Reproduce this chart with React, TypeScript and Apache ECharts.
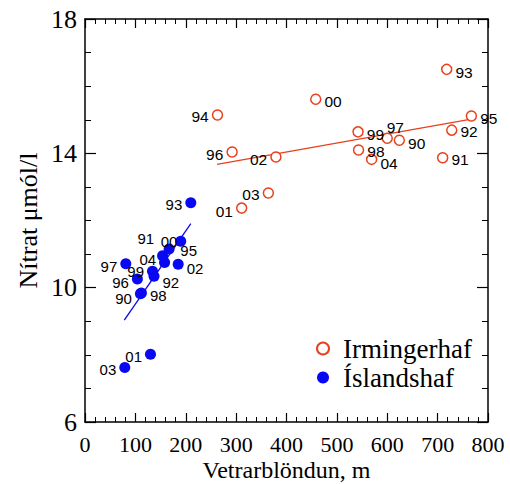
import React, { useEffect, useRef } from "react";
import * as echarts from "echarts";

// Irmingerhaf (open red circles)
const irmYears = ["90", "91", "92", "93", "94", "95", "96", "97", "98", "99", "00", "01", "02", "03", "04"];
const irmDepth = [624, 710, 728, 718, 263, 767, 292, 600, 543, 542, 458, 311, 379, 364, 569];
const irmNitrate = [14.39, 13.87, 14.69, 16.5, 15.14, 15.11, 14.04, 14.45, 14.1, 14.64, 15.61, 12.37, 13.89, 12.82, 13.82];

// Íslandshaf (filled blue circles)
const islYears = ["90", "91", "92", "93", "95", "96", "97", "98", "99", "00", "01", "02", "03", "04"];
const islDepth = [110, 154, 137, 210, 190, 104, 81, 112, 134, 167, 130, 185, 79, 158];
const islNitrate = [9.82, 10.95, 10.34, 12.53, 11.38, 10.26, 10.71, 9.84, 10.49, 11.15, 8.02, 10.7, 7.62, 10.75];

// regression lines (end points)
const irmLineX = [262, 764];
const irmLineY = [13.67, 15.01];
const islLineX = [78, 210];
const islLineY = [9.03, 11.91];

const RED = "#e8401c";
const BLUE = "#0808f2";

type LP = { position: string; offset?: number[] };
const irmLabelPlace: Record<string, LP> = {
  "90": { position: "right", offset: [0, 3] },
  "91": { position: "right", offset: [0, 2] },
  "92": { position: "right", offset: [0, 1] },
  "93": { position: "right", offset: [0, 3] },
  "94": { position: "left", offset: [0, 1] },
  "95": { position: "right", offset: [0, 2] },
  "96": { position: "left", offset: [0, 3] },
  "97": { position: "top", offset: [8, 6] },
  "98": { position: "right", offset: [0, 2] },
  "99": { position: "right", offset: [0, 3] },
  "00": { position: "right", offset: [0, 2] },
  "01": { position: "left", offset: [0, 3] },
  "02": { position: "left", offset: [0, 2] },
  "03": { position: "left", offset: [0, 2] },
  "04": { position: "right", offset: [0, 4] },
};
const islLabelPlace: Record<string, LP> = {
  "90": { position: "left", offset: [0, 5] },
  "91": { position: "left", offset: [0, -17] },
  "92": { position: "right", offset: [0, 6] },
  "93": { position: "left", offset: [0, 2] },
  "95": { position: "bottom", offset: [8, -6] },
  "96": { position: "left", offset: [0, 4] },
  "97": { position: "left", offset: [0, 3] },
  "98": { position: "right", offset: [0, 2] },
  "99": { position: "left", offset: [0, 0] },
  "00": { position: "top", offset: [0, 7] },
  "01": { position: "left", offset: [0, 2] },
  "02": { position: "right", offset: [0, 4] },
  "03": { position: "left", offset: [0, 2] },
  "04": { position: "left", offset: [0, -3] },
};

const SERIF = "Liberation Serif";
const SANS = "Liberation Sans";

export default function App() {
  const ref = useRef<HTMLDivElement>(null);
  useEffect(() => {
    if (!ref.current) return;
    const chart = echarts.init(ref.current, null, { renderer: "svg" });

    const axisCommonX = {
      type: "value",
      min: 0,
      max: 800,
      interval: 100,
      axisLine: { show: true, onZero: false, lineStyle: { color: "#000", width: 1.5 } },
      axisTick: { show: true, inside: true, length: 9, lineStyle: { color: "#000", width: 1.2 } },
      minorTick: { show: true, splitNumber: 5, length: 5, lineStyle: { color: "#000", width: 1 } },
      splitLine: { show: false },
    };
    const axisCommonY = {
      type: "value",
      min: 6,
      max: 18,
      interval: 4,
      axisLine: { show: true, onZero: false, lineStyle: { color: "#000", width: 1.5 } },
      axisTick: { show: true, inside: true, length: 11, lineStyle: { color: "#000", width: 1.2 } },
      minorTick: { show: true, splitNumber: 4, length: 6, lineStyle: { color: "#000", width: 1 } },
      splitLine: { show: false },
    };

    const mkData = (xs: number[], ys: number[], names: string[], place: Record<string, LP>) =>
      xs.map((x, i) => ({
        value: [x, ys[i]],
        name: names[i],
        label: {
          position: place[names[i]]?.position ?? "right",
          offset: place[names[i]]?.offset ?? [0, 0],
        },
      }));

    chart.setOption({
      animation: false,
      backgroundColor: "#fff",
      grid: { left: 85, right: 22, top: 19, bottom: 62, containLabel: false, outerBoundsMode: "none" },
      legend: {
        orient: "vertical",
        left: 311,
        top: 330,
        itemWidth: 30,
        itemHeight: 12,
        itemGap: 2,
        data: ["Irmingerhaf", "Íslandshaf"],
        textStyle: { fontFamily: SERIF, fontSize: 27, lineHeight: 26, color: "#000" },
      },
      xAxis: [
        {
          ...axisCommonX,
          position: "bottom",
          name: "Vetrarblöndun, m",
          nameLocation: "middle",
          nameGap: 36,
          nameMoveOverlap: false,
          nameTextStyle: { fontFamily: SERIF, fontSize: 24, lineHeight: 24, color: "#000" },
          axisLabel: { fontFamily: SERIF, fontSize: 22, color: "#000", margin: 11 },
        },
        { ...axisCommonX, position: "top", axisLabel: { show: false } },
      ],
      yAxis: [
        {
          ...axisCommonY,
          position: "left",
          name: "Nítrat μmól/l",
          nameLocation: "middle",
          nameGap: 44,
          nameMoveOverlap: false,
          nameTextStyle: { fontFamily: SERIF, fontSize: 26, color: "#000" },
          axisLabel: { fontFamily: SERIF, fontSize: 26, color: "#000", margin: 8 },
        },
        { ...axisCommonY, position: "right", axisLabel: { show: false } },
      ],
      series: [
        {
          name: "Irmingerhaf",
          type: "scatter",
          xAxisIndex: 0,
          yAxisIndex: 0,
          symbol: "circle",
          symbolSize: 10,
          itemStyle: { color: "#fff", borderColor: RED, borderWidth: 1.5, opacity: 1 },
          label: { show: true, formatter: "{b}", fontFamily: SANS, fontSize: 15.5, color: "#000", distance: 3 },
          data: mkData(irmDepth, irmNitrate, irmYears, irmLabelPlace),
          z: 3,
        },
        {
          name: "Íslandshaf",
          type: "scatter",
          xAxisIndex: 0,
          yAxisIndex: 0,
          symbol: "circle",
          symbolSize: 11,
          itemStyle: { color: BLUE, opacity: 1 },
          label: { show: true, formatter: "{b}", fontFamily: SANS, fontSize: 15, lineHeight: 13, color: "#000", distance: 3 },
          data: mkData(islDepth, islNitrate, islYears, islLabelPlace),
          z: 3,
        },
        {
          name: "irmFit",
          type: "line",
          showSymbol: false,
          symbol: "none",
          lineStyle: { color: RED, width: 1.3 },
          data: irmLineX.map((x, i) => [x, irmLineY[i]]),
          z: 2,
        },
        {
          name: "islFit",
          type: "line",
          showSymbol: false,
          symbol: "none",
          lineStyle: { color: BLUE, width: 1.3 },
          data: islLineX.map((x, i) => [x, islLineY[i]]),
          z: 2,
        },
      ],
    });
    return () => chart.dispose();
  }, []);
  return <div ref={ref} style={{ width: 510, height: 484, position: "absolute", left: 0, top: 0 }} />;
}
